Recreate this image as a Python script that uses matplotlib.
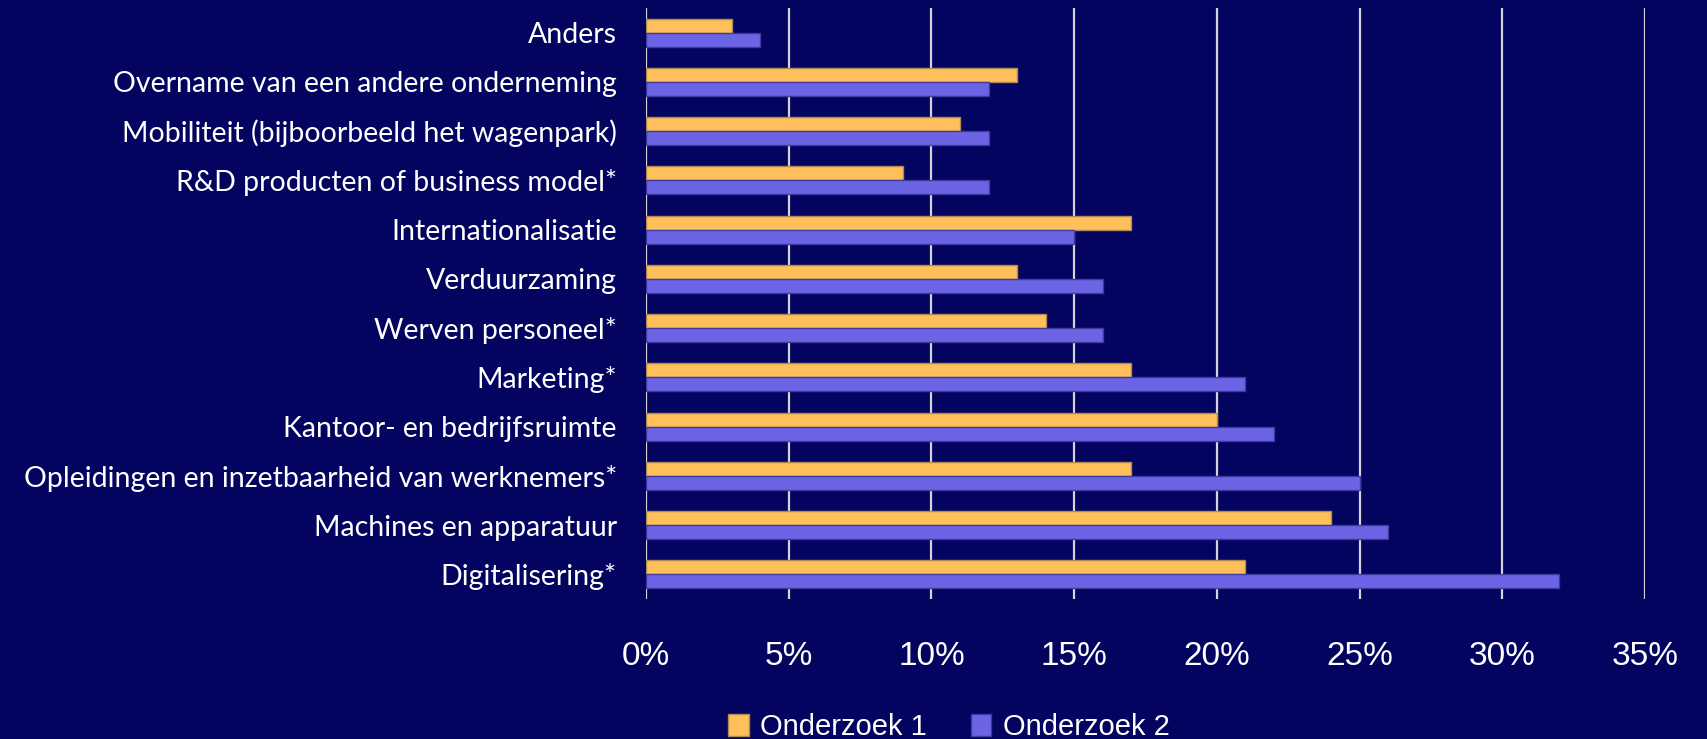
import numpy as np
import matplotlib
matplotlib.use("Agg")
import matplotlib.pyplot as plt

# --- Data ---
categories = [
    "Anders",
    "Overname van een andere onderneming",
    "Mobiliteit (bijboorbeeld het wagenpark)",
    "R&D producten of business model*",
    "Internationalisatie",
    "Verduurzaming",
    "Werven personeel*",
    "Marketing*",
    "Kantoor- en bedrijfsruimte",
    "Opleidingen en inzetbaarheid van werknemers*",
    "Machines en apparatuur",
    "Digitalisering*",
]
onderzoek_1 = [3, 13, 11, 9, 17, 13, 14, 17, 20, 17, 24, 21]
onderzoek_2 = [4, 12, 12, 12, 15, 16, 16, 21, 22, 25, 26, 32]
series_labels = ["Onderzoek 1", "Onderzoek 2"]
x_ticks = [0, 5, 10, 15, 20, 25, 30, 35]

BG = "#02045F"
YELLOW = "#FFC05C"
PURPLE = "#6B65E5"
GRID = "#D4D4D8"

fig = plt.figure(figsize=(17.08, 7.39), dpi=100, facecolor=BG)
ax = fig.add_axes([646 / 1708, 1 - 599 / 739, (1645 - 646) / 1708, (599 - 8) / 739])
ax.set_facecolor(BG)

y = np.arange(len(categories))
h = 0.285
b1 = ax.barh(y - h / 2, onderzoek_1, height=h, color=YELLOW,
             edgecolor="#B08A55", linewidth=1, label=series_labels[0], zorder=3)
b2 = ax.barh(y + h / 2, onderzoek_2, height=h, color=PURPLE,
             edgecolor="#3E3A9E", linewidth=1, label=series_labels[1], zorder=3)

ax.set_ylim(len(categories) - 0.5, -0.5)
ax.set_xlim(0, 35)

ax.set_yticks(y)
ax.set_yticklabels(categories, fontfamily="Lato", fontsize=20.5, color="white")
ax.set_xticks(x_ticks)
ax.set_xticklabels([f"{t}%" for t in x_ticks], fontfamily="Liberation Sans",
                   fontsize=24, color="white")
ax.tick_params(axis="y", length=0, pad=21)
ax.tick_params(axis="x", length=0, pad=30)

ax.xaxis.grid(True, color=GRID, linewidth=1.6, zorder=1)
ax.set_axisbelow(True)
for s in ax.spines.values():
    s.set_visible(False)

leg = fig.legend(handles=[b1, b2], labels=series_labels, loc="center",
                 bbox_to_anchor=(949 / 1708, 1 - 727 / 739), ncol=2,
                 frameon=False, prop={"family": "Liberation Sans", "size": 21},
                 handlelength=0.7, handleheight=0.75, handletextpad=0.4,
                 columnspacing=1.5, labelcolor="white")

fig.savefig("out.png", dpi=100, facecolor=BG)
